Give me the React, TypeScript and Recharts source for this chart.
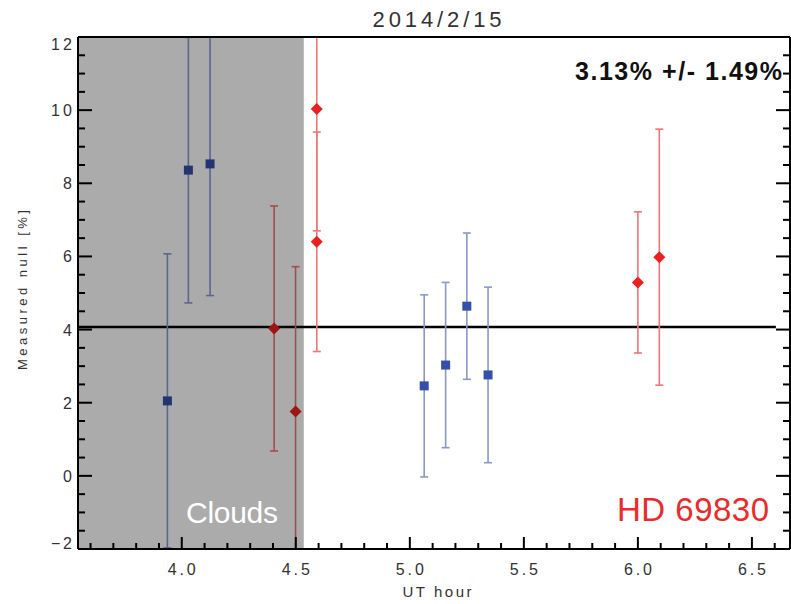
import {
  ErrorBar,
  ReferenceArea,
  ReferenceLine,
  Scatter,
  ScatterChart,
  XAxis,
  YAxis,
} from "recharts";

// blue squares
const blueHours = [3.937, 4.029, 4.124, 5.063, 5.157, 5.25, 5.343];
const blueNull = [2.05, 8.36, 8.53, 2.46, 3.03, 4.64, 2.76];
const blueErr = [4.02, 3.63, 3.6, 2.49, 2.26, 2.0, 2.4];

// red diamonds
const redHours = [4.405, 4.499, 4.592, 4.592, 6.0, 6.094];
const redNull = [4.03, 1.76, 10.03, 6.4, 5.29, 5.98];
const redErr = [3.35, 3.96, 3.33, 3.0, 1.93, 3.5];

const meanNull = 4.07;
const meanEnd = 6.605;
const cloudEnd = 4.535;

const xDomain = [3.545, 6.667];
const yDomain = [-2, 12];

const xMajor = [4.0, 4.5, 5.0, 5.5, 6.0, 6.5];
const xTicks = [
  3.6, 3.7, 3.8, 3.9, 4.0, 4.1, 4.2, 4.3, 4.4, 4.5, 4.6, 4.7, 4.8, 4.9, 5.0, 5.1,
  5.2, 5.3, 5.4, 5.5, 5.6, 5.7, 5.8, 5.9, 6.0, 6.1, 6.2, 6.3, 6.4, 6.5, 6.6,
];
const yMajor = [-2, 0, 2, 4, 6, 8, 10, 12];
const yTicks = [
  -2, -1.5, -1, -0.5, 0, 0.5, 1, 1.5, 2, 2.5, 3, 3.5, 4, 4.5, 5, 5.5, 6, 6.5, 7,
  7.5, 8, 8.5, 9, 9.5, 10, 10.5, 11, 11.5, 12,
];

const blueData = blueHours.map((hour, i) => ({ hour, value: blueNull[i], err: blueErr[i] }));
const redData = redHours.map((hour, i) => ({ hour, value: redNull[i], err: redErr[i] }));

const W = 791;
const H = 604;
const MARGIN = { top: 36, right: 0, bottom: 54, left: 77 };
// plot box (axes take 1px each)
const PLOT = { x: 78, y: 37, w: W - 78 - 1, h: H - 37 - 55 };

const FONT = "'Liberation Sans', Arial, sans-serif";
const isMajor = (list: number[], v: number) => list.some((m) => Math.abs(m - v) < 1e-6);

function BottomTick(props: any) {
  const { x, y, payload } = props;
  const major = isMajor(xMajor, payload.value);
  return (
    <g>
      <line x1={x} y1={y} x2={x} y2={y - (major ? 12 : 6)} stroke="#000" strokeWidth={2} />
      {major && (
        <text
          x={x}
          y={y + 26}
          textAnchor="middle"
          fontSize={16}
          fontFamily={FONT}
          fill="#333"
          textLength={28}
        >
          {payload.value.toFixed(1)}
        </text>
      )}
    </g>
  );
}

function TopTick(props: any) {
  const { x, y, payload } = props;
  const major = isMajor(xMajor, payload.value);
  return <line x1={x} y1={y} x2={x} y2={y + (major ? 11 : 6)} stroke="#000" strokeWidth={2} />;
}

function LeftTick(props: any) {
  const { x, y, payload } = props;
  const v = payload.value;
  const major = isMajor(yMajor, v);
  // keep the end labels inside the frame
  const shift = v === yDomain[1] ? 7 : v === yDomain[0] ? -6 : 0;
  const label = String(v).replace("-", "\u2212");
  return (
    <g>
      <line x1={x} y1={y} x2={x + (major ? 14 : 7)} y2={y} stroke="#000" strokeWidth={2} />
      {major && (
        <text
          x={x - 6}
          y={y + 6 + shift}
          textAnchor="end"
          fontSize={16}
          fontFamily={FONT}
          fill="#333"
          textLength={label.length > 1 ? 21 : undefined}
        >
          {label}
        </text>
      )}
    </g>
  );
}

function RightTick(props: any) {
  const { x, y, payload } = props;
  const major = isMajor(yMajor, payload.value);
  return <line x1={x} y1={y} x2={x - (major ? 14 : 7)} y2={y} stroke="#000" strokeWidth={2} />;
}

function Square(props: any) {
  const { cx, cy, fill } = props;
  return <rect x={cx - 4.5} y={cy - 4.5} width={9} height={9} fill={fill} />;
}

function Diamond(props: any) {
  const { cx, cy, fill } = props;
  const r = 6;
  return <polygon points={`${cx},${cy - r} ${cx + r},${cy} ${cx},${cy + r} ${cx - r},${cy}`} fill={fill} />;
}

const axisLine = { stroke: "#000", strokeWidth: 2 };

export default function App() {
  return (
    <div style={{ position: "absolute", left: 0, top: 0, width: W, height: H, background: "#fff" }}>
      {/* error bars run past the frame; cut them at the plot box */}
      <style>{`.recharts-errorBar { clip-path: url(#plotClip); }`}</style>
      <svg width={0} height={0} style={{ position: "absolute" }}>
        <defs>
          <clipPath id="plotClip" clipPathUnits="userSpaceOnUse">
            <rect x={PLOT.x} y={PLOT.y} width={PLOT.w} height={PLOT.h} />
          </clipPath>
        </defs>
      </svg>
      <ScatterChart width={W} height={H} margin={MARGIN}>
        <XAxis
          xAxisId="bottom"
          type="number"
          dataKey="hour"
          orientation="bottom"
          domain={xDomain}
          allowDataOverflow
          ticks={xTicks}
          interval={0}
          height={1}
          tickSize={0}
          tickMargin={0}
          tickLine={false}
          axisLine={axisLine}
          tick={(p: any) => <BottomTick {...p} />}
        />
        <XAxis
          xAxisId="top"
          type="number"
          orientation="top"
          domain={xDomain}
          allowDataOverflow
          ticks={xTicks}
          interval={0}
          height={1}
          tickSize={0}
          tickMargin={0}
          tickLine={false}
          axisLine={axisLine}
          tick={(p: any) => <TopTick {...p} />}
        />
        <YAxis
          yAxisId="left"
          type="number"
          dataKey="value"
          orientation="left"
          domain={yDomain}
          allowDataOverflow
          ticks={yTicks}
          interval={0}
          width={1}
          tickSize={0}
          tickMargin={0}
          tickLine={false}
          axisLine={axisLine}
          tick={(p: any) => <LeftTick {...p} />}
        />
        <YAxis
          yAxisId="right"
          type="number"
          orientation="right"
          domain={yDomain}
          allowDataOverflow
          ticks={yTicks}
          interval={0}
          width={1}
          tickSize={0}
          tickMargin={0}
          tickLine={false}
          axisLine={axisLine}
          tick={(p: any) => <RightTick {...p} />}
        />
        <ReferenceLine
          xAxisId="bottom"
          yAxisId="left"
          segment={[
            { x: xDomain[0], y: meanNull },
            { x: meanEnd, y: meanNull },
          ]}
          stroke="#000"
          strokeWidth={2.5}
        />
        <Scatter
          xAxisId="bottom"
          yAxisId="left"
          data={blueData}
          fill="#3550a8"
          shape={(p: any) => <Square {...p} />}
          isAnimationActive={false}
        >
          <ErrorBar dataKey="err" direction="y" width={4} stroke="#8898cf" strokeWidth={1.6} />
        </Scatter>
        <Scatter
          xAxisId="bottom"
          yAxisId="left"
          data={redData}
          fill="#ee1f1f"
          shape={(p: any) => <Diamond {...p} />}
          isAnimationActive={false}
        >
          <ErrorBar dataKey="err" direction="y" width={4} stroke="#f27474" strokeWidth={1.6} />
        </Scatter>
        {/* cloudy stretch: darkening veil drawn over the points */}
        <ReferenceArea
          xAxisId="bottom"
          yAxisId="left"
          x1={xDomain[0]}
          x2={cloudEnd}
          y1={yDomain[0]}
          y2={yDomain[1]}
          fill="#000"
          fillOpacity={0.33}
          stroke="none"
          zIndex={650}
        />
      </ScatterChart>
      <svg
        width={W}
        height={H}
        style={{ position: "absolute", left: 0, top: 0, pointerEvents: "none" }}
        fontFamily={FONT}
      >
        <text x={437} y={27} textAnchor="middle" fontSize={22} fill="#333" textLength={129}>
          2014/2/15
        </text>
        <text x={782} y={80} textAnchor="end" fontSize={25} fontWeight="bold" fill="#111" textLength={207}>
          3.13% +/- 1.49%
        </text>
        <text x={769} y={521} textAnchor="end" fontSize={33} fill="#ee2a2a" textLength={152}>
          HD 69830
        </text>
        <text x={186} y={523} fontSize={30} fill="#fff" textLength={92}>
          Clouds
        </text>
        <text x={437} y={597} textAnchor="middle" fontSize={15} fill="#333" textLength={69}>
          UT hour
        </text>
        <text
          x={27}
          y={290}
          textAnchor="middle"
          fontSize={13}
          fill="#333"
          textLength={160}
          transform="rotate(-90 27 290)"
        >
          Measured null [%]
        </text>
      </svg>
    </div>
  );
}
